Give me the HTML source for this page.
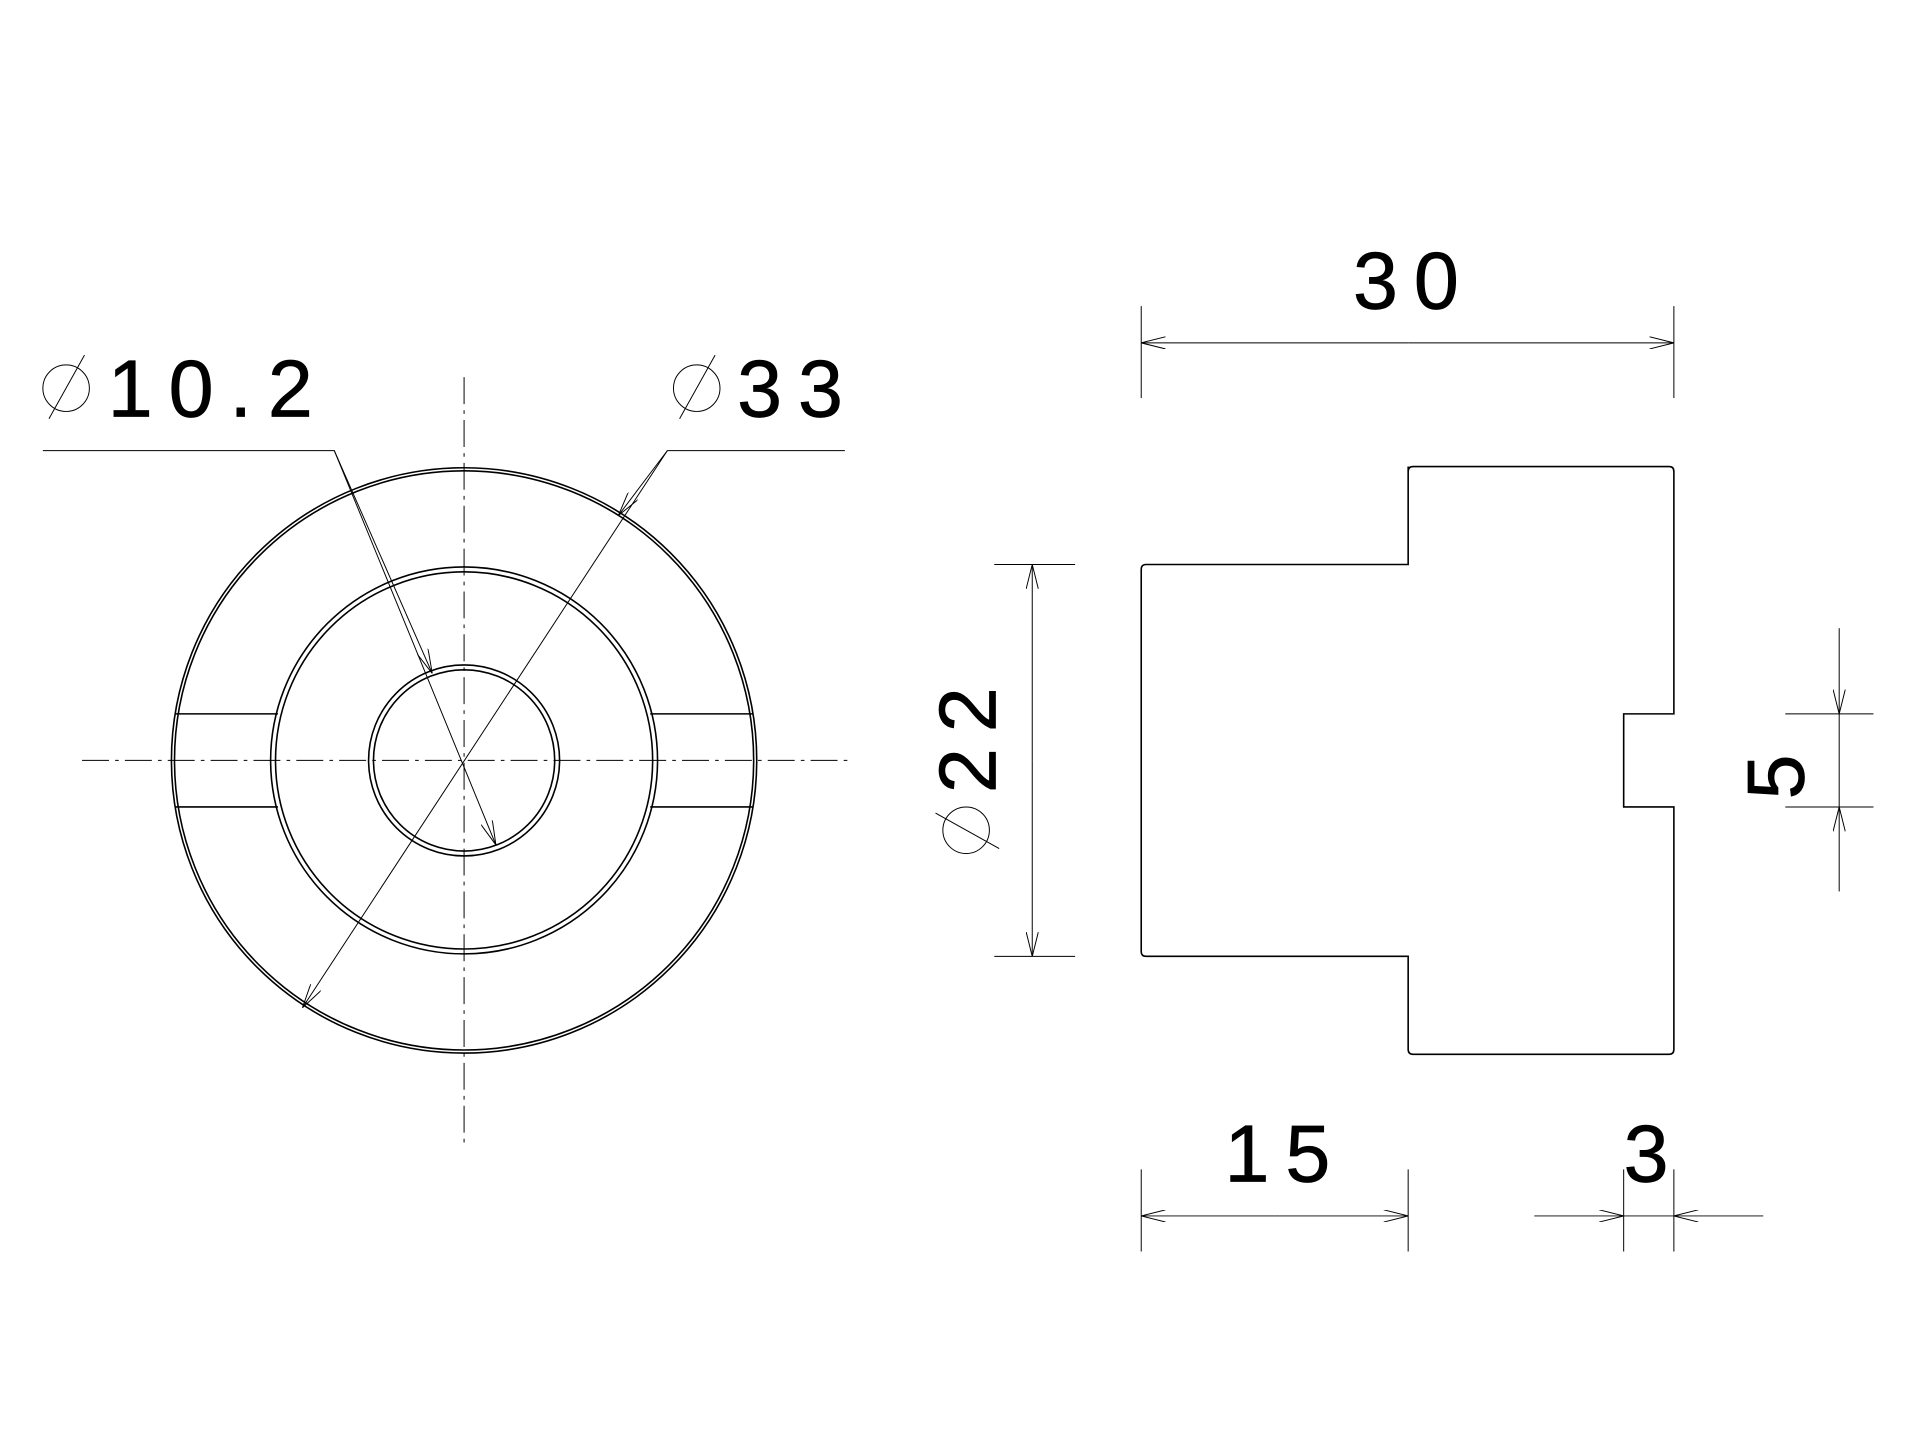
<!DOCTYPE html>
<html><head><style>html,body{margin:0;padding:0;background:#fff}svg{display:block}</style></head>
<body>
<svg width="1920" height="1453" viewBox="0 0 1568 1186.6" xmlns="http://www.w3.org/2000/svg">
<defs>
<marker id="a" viewBox="0 0 20 10" refX="20" refY="5" markerWidth="20" markerHeight="10" markerUnits="userSpaceOnUse" orient="auto"><path d="M0,0 L20,5 L0,10" fill="none" stroke="#000" stroke-width="0.8"/></marker>
</defs>
<g fill="none" stroke="#000" stroke-width="1.3">
<circle cx="379" cy="621" r="239"/><circle cx="379" cy="621" r="236.5"/>
<circle cx="379" cy="621" r="158"/><circle cx="379" cy="621" r="154"/>
<circle cx="379" cy="621" r="78"/><circle cx="379" cy="621" r="74"/>
<path d="M143,583 H227 M143,659 H227 M531,583 H615 M531,659 H615"/>
</g>
<g fill="none" stroke="#000" stroke-width="0.8">
<path d="M379,308 V933 M67,621 H692" stroke-dasharray="22,5,3,5"/>
<path d="M35,368 H273 L405,690" marker-end="url(#a)"/>
<path d="M273,368 L353,550" marker-end="url(#a)"/>
<path d="M690,368 H545 L247,823" marker-end="url(#a)"/>
<path d="M545,368 L505,421" marker-end="url(#a)"/>
<!-- phi symbols -->
<circle cx="54" cy="317" r="19"/><path d="M40,342 L69,290"/>
<circle cx="569" cy="317" r="19"/><path d="M555,342 L584,290"/>
<circle cx="789" cy="678" r="19"/><path d="M764,664 L816,693"/>
</g>
<g fill="none" stroke="#000" stroke-width="1.3">
<path d="M936,461 H1150 V381 M1154,381 H1363 Q1367,381 1367,385 V583 H1326 V659 H1367 V857 Q1367,861 1363,861 H1154 Q1150,861 1150,857 V781 H936 Q932,781 932,777 V465 Q932,461 936,461 M1150,385 Q1150,381 1154,381"/>
</g>
<g fill="none" stroke="#000" stroke-width="0.8">
<path d="M932,250 V325 M1367,250 V325"/>
<path d="M1150,280 H932" marker-end="url(#a)"/><path d="M1150,280 H1367" marker-end="url(#a)"/>
<path d="M812,461 H878 M812,781 H878"/>
<path d="M843,621 V461" marker-end="url(#a)"/><path d="M843,621 V781" marker-end="url(#a)"/>
<path d="M1458,583 H1530 M1458,659 H1530"/>
<path d="M1502,513 V583" marker-end="url(#a)"/><path d="M1502,728 V659" marker-end="url(#a)"/>
<path d="M1502,583 V659"/>
<path d="M932,955 V1022 M1150,955 V1022 M1326,955 V1022 M1367,955 V1022"/>
<path d="M1041,993 H932" marker-end="url(#a)"/><path d="M1041,993 H1150" marker-end="url(#a)"/>
<path d="M1253,993 H1326" marker-end="url(#a)"/><path d="M1440,993 H1367" marker-end="url(#a)"/>
<path d="M1326,993 H1367"/>
</g>
<g font-family="Liberation Sans, sans-serif" font-size="66" fill="#000" stroke="#000" stroke-width="0.6" letter-spacing="13">
<text x="88" y="340">10.2</text>
<text x="602" y="340">33</text>
<text x="1105" y="252">30</text>
<text x="1000" y="965">15</text>
<text x="1326" y="965">3</text>
<text transform="translate(813,598) rotate(-90)" text-anchor="middle">22</text>
<text transform="translate(1473,628) rotate(-90)" text-anchor="middle">5</text>
</g>
</svg>
</body></html>
